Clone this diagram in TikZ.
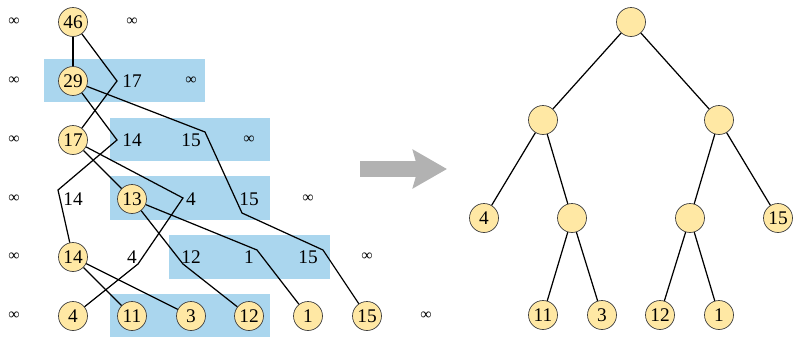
\documentclass[tikz,border=0pt]{standalone}
\usepackage{fontspec}
\setmainfont{Liberation Serif}
\usetikzlibrary{arrows.meta}
\definecolor{keyfill}{RGB}{255,232,164}
\definecolor{runb}{RGB}{170,214,238}
\definecolor{arrg}{RGB}{178,178,178}
\definecolor{ink}{RGB}{0,0,0}

\begin{document}
\begin{tikzpicture}[
  x=0.02cm, y=-0.02cm,
  font=\fontsize{11}{13}\selectfont, ink,
  every node/.style={inner sep=1pt},
  key/.style={circle, draw=black!75, fill=keyfill, line width=0.4pt,
              minimum size=0.58cm, inner sep=0pt},
  val/.style={},
  inf/.style={font=\fontsize{9}{11}\selectfont},
  run/.style={fill=runb},
  link/.style={line width=0.7pt, line join=miter},
  edge/.style={line width=0.7pt},
  bigarrow/.style={line width=0.32cm, arrg,
                   -{Stealth[length=0.68cm, width=0.76cm, inset=0.1cm]}},
]
\useasboundingbox (0,0) rectangle (800,345);

%% ---- blue runs (behind) ----
\fill[run] (44,59) rectangle (205,102);
\fill[run] (110,118) rectangle (270,161);
\fill[run] (110,176) rectangle (270,220);
\fill[run] (169,235) rectangle (330,279);
\fill[run] (110,294) rectangle (270,337);

%% =========================================================
%% Left: rows of the merge
%% =========================================================
\node[inf] (i0) at (14,22) {∞};
\node[key] (n46) at (73,22) {46};
\node[inf] (i0b) at (132,22) {∞};

\node[inf] (i1) at (14,81) {∞};
\node[key] (n29) at (73,81) {29};
\node[val] (t17) at (132,81) {17};
\node[inf] (i1b) at (191,81) {∞};

\node[inf] (i2) at (14,140) {∞};
\node[key] (n17) at (73,140) {17};
\node[val] (t14a) at (132,140) {14};
\node[val] (t15a) at (191,140) {15};
\node[inf] (i2b) at (249,140) {∞};

\node[inf] (i3) at (14,199) {∞};
\node[val] (t14b) at (73,199) {14};
\node[key] (n13) at (132,199) {13};
\node[val] (t4a) at (191,199) {4};
\node[val] (t15b) at (249,199) {15};
\node[inf] (i3b) at (308,199) {∞};

\node[inf] (i4) at (14,257) {∞};
\node[key] (n14) at (73,257) {14};
\node[val] (t4b) at (132,257) {4};
\node[val] (t12) at (191,257) {12};
\node[val] (t1) at (249,257) {1};
\node[val] (t15c) at (308,257) {15};
\node[inf] (i4b) at (367,257) {∞};

\node[inf] (i5) at (14,316) {∞};
\node[key] (n4) at (73,316) {4};
\node[key] (n11) at (132,316) {11};
\node[key] (n3) at (191,316) {3};
\node[key] (n12) at (249,316) {12};
\node[key] (n1) at (308,316) {1};
\node[key] (n15) at (367,316) {15};
\node[inf] (i5b) at (426,316) {∞};

%% bend points of the paths
\coordinate (via17) at (117,81);
\coordinate (via14a) at (117,140);
\coordinate (via14b) at (58,190);
\coordinate (via15a) at (205,132);
\coordinate (via15b) at (242,213);
\coordinate (via15c) at (323,250);
\coordinate (via4a) at (183,198);
\coordinate (via4b) at (138,264);
\coordinate (via1) at (257,250);
\coordinate (via12) at (183,264);

\draw[link] (n46) -- (n29);
\draw[link] (n46) -- (via17) -- (n17);
\draw[link] (n29) -- (via14a) -- (via14b) -- (n14);
\draw[link] (n29) -- (via15a) -- (via15b) -- (via15c) -- (n15);
\draw[link] (n17) -- (n13);
\draw[link] (n17) -- (via4a) -- (via4b) -- (n4);
\draw[link] (n13) -- (via1) -- (n1);
\draw[link] (n13) -- (via12) -- (n12);
\draw[link] (n14) -- (n11);
\draw[link] (n14) -- (n3);

%% ---- arrow ----
\coordinate (arrfrom) at (360,169);
\coordinate (arrto) at (447,169);
\draw[bigarrow] (arrfrom) -- (arrto);

%% =========================================================
%% Right: resulting tree
%% =========================================================
\node[key] (root) at (631,22) {};
\node[key] (a) at (543,120) {};
\node[key] (b) at (719,120) {};
\node[key] (l4) at (484,218) {4};
\node[key] (c) at (572,218) {};
\node[key] (d) at (690,218) {};
\node[key] (l15) at (778,218) {15};
\node[key] (l11) at (543,315) {11};
\node[key] (l3) at (602,315) {3};
\node[key] (l12) at (660,315) {12};
\node[key] (l1) at (719,315) {1};

\draw[edge] (root) -- (a);
\draw[edge] (root) -- (b);
\draw[edge] (a) -- (l4);
\draw[edge] (a) -- (c);
\draw[edge] (b) -- (d);
\draw[edge] (b) -- (l15);
\draw[edge] (c) -- (l11);
\draw[edge] (c) -- (l3);
\draw[edge] (d) -- (l12);
\draw[edge] (d) -- (l1);

\end{tikzpicture}
\end{document}
